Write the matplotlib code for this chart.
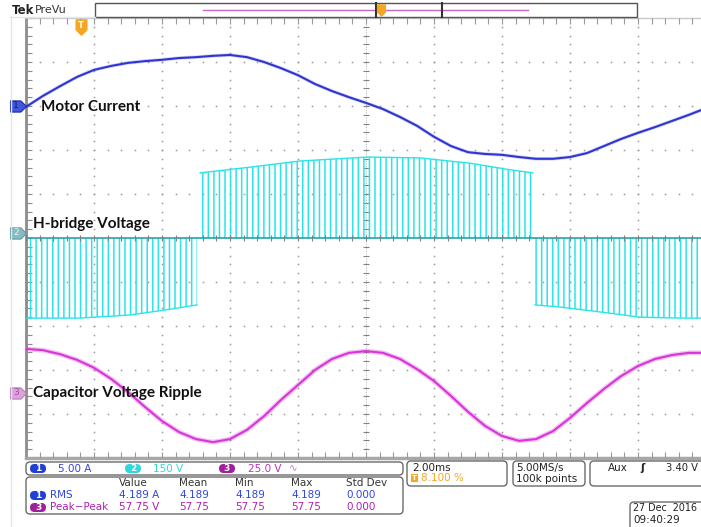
import numpy as np
import matplotlib.pyplot as plt
from matplotlib.patches import FancyBboxPatch, Rectangle

plt.rcParams['hatch.linewidth'] = 1.1

# time in ms (2 ms/div), sampled every 0.5 ms; trace values in screen divisions from centre
t_ms = np.linspace(-10, 10, 41)
current_div = [2.98, 3.23, 3.45, 3.66, 3.82, 3.91, 3.98, 4.02, 4.05, 4.09, 4.11, 4.14, 4.16, 4.11,
               4.00, 3.86, 3.70, 3.50, 3.34, 3.20, 3.07, 2.93, 2.75, 2.55, 2.30, 2.09, 1.95, 1.91,
               1.89, 1.84, 1.80, 1.80, 1.84, 1.93, 2.09, 2.25, 2.39, 2.52, 2.66, 2.80, 2.95]
cap_div = [-2.52, -2.55, -2.64, -2.77, -2.95, -3.20, -3.50, -3.84, -4.16, -4.41, -4.57, -4.64, -4.57,
           -4.36, -4.05, -3.68, -3.34, -3.00, -2.75, -2.61, -2.57, -2.61, -2.75, -2.98, -3.25, -3.59,
           -3.95, -4.27, -4.50, -4.61, -4.57, -4.39, -4.09, -3.75, -3.43, -3.14, -2.91, -2.75, -2.66,
           -2.61, -2.61]

# H-bridge PWM envelope, three blocks (negative, positive, negative)
t_neg1 = [-10.0, -8.41, -6.94, -5.76, -4.97]
env_neg1 = [-1.82, -1.82, -1.75, -1.62, -1.52]
t_pos = [-4.88, -3.41, -1.94, 0.06, 1.59, 3.06, 4.24, 4.91]
env_pos = [1.48, 1.61, 1.75, 1.84, 1.82, 1.70, 1.55, 1.48]
t_neg2 = [4.97, 5.71, 6.88, 8.06, 9.24, 10.0]
env_neg2 = [-1.52, -1.57, -1.68, -1.80, -1.82, -1.82]

ch_offsets = [3.0, 0.12, -3.52]
ch_labels = ['Motor Current', 'H-bridge Voltage', 'Capacitor Voltage Ripple']
label_x = [-9.56, -9.79, -9.79]
label_y = [2.98, 0.32, -3.52]
trigger_pos = 0.081

scale_text = ['5.00 A', '150 V', '25.0 V']
meas_cols = ['Value', 'Mean', 'Min', 'Max', 'Std Dev']
rms_vals = ['4.189 A', '4.189', '4.189', '4.189', '0.000']
pp_vals = ['57.75 V', '57.75', '57.75', '57.75', '0.000']

blue = '#2f35d0'
cyan = '#2ae4ea'
magenta = '#d835d8'
orange = '#f5a623'
grid_c = '#9a9a9a'

W, H = 701, 527
fig = plt.figure(figsize=(W / 100, H / 100), dpi=100)
fig.patch.set_facecolor('white')

ax = fig.add_axes([26 / W, 1 - 458 / H, 680 / W, 440 / H])
ax.set_xlim(-10, 10)
ax.set_ylim(-5, 5)
ax.axis('off')

# graticule dots
for gx in [-8, -6, -4, -2, 2, 4, 6, 8]:
    ys = np.arange(-5, 5.01, 0.2)
    ax.plot(np.full_like(ys, gx), ys, ls='none', marker='s', ms=1.1, mew=0, color=grid_c)
for gy in [-4, -3, -2, -1, 1, 2, 3, 4]:
    xs = np.arange(-10, 10.01, 0.4)
    ax.plot(xs, np.full_like(xs, gy), ls='none', marker='s', ms=1.1, mew=0, color=grid_c)

# centre crosshair with minor ticks
ax.plot([0, 0], [-5, 5], color='#b5b5b5', lw=0.7, ls=(0, (1, 1.5)))
ys = np.arange(-5, 5.01, 0.2)
ax.plot(np.zeros_like(ys), ys, ls='none', marker='_', ms=5, mew=0.8, color='#808080')
xs = np.arange(-10, 10.01, 0.4)
ax.plot(xs, np.zeros_like(xs), ls='none', marker='|', ms=5, mew=0.8, color='#808080', zorder=4)

# frame
ax.plot([-10, -10], [-5, 5], color='#8c8c8c', lw=2, clip_on=False)
ax.plot(np.full_like(ys, -10), ys, ls='none', marker=1, ms=4, mew=0.8, color='#8c8c8c', clip_on=False)
ax.plot([-10, 10], [5, 5], color='#c8c8c8', lw=1, clip_on=False)
ax.plot(xs, np.full_like(xs, 5), ls='none', marker=3, ms=4, mew=0.8, color='#999999', clip_on=False)
ax.plot([-10, 10], [-5, -5], color='#a8a8a8', lw=2.5, clip_on=False)
ax.plot(xs, np.full_like(xs, -5), ls='none', marker=2, ms=4, mew=0.8, color='#999999', clip_on=False)

# channel 2: H-bridge PWM
for tt, ee in [(t_neg1, env_neg1), (t_pos, env_pos), (t_neg2, env_neg2)]:
    ax.fill_between(tt, 0, ee, facecolor='none', edgecolor=cyan, hatch='|||', lw=0, zorder=2)
    ax.plot(tt, ee, color=cyan, lw=1.0, zorder=2)
ax.axhline(0, color='#27a3a8', lw=1.2, zorder=3)

# channel 1: motor current
ax.plot(t_ms, current_div, color=blue, lw=2.6, alpha=0.2, zorder=3)
ax.plot(t_ms, current_div, color=blue, lw=1.5, zorder=3)

# channel 3: capacitor ripple
ax.plot(t_ms, cap_div, color=magenta, lw=3.4, alpha=0.3, zorder=3)
ax.plot(t_ms, cap_div, color=magenta, lw=1.5, zorder=3)

# channel tabs
tab = [(-1, -0.7), (0.3, -0.7), (1, 0), (0.3, 0.7), (-1, 0.7), (-1, -0.7)]
tab_fc = ['#4257dc', '#86bcbf', '#dba2db']
tab_ec = ['#1c2fa8', '#5c9ea1', '#c07bc0']
tab_tc = ['#0d1a70', '#e8f6f6', '#a050a0']
for i, off in enumerate(ch_offsets):
    ax.plot(-10.24, off, marker=tab, ms=11.5, mfc=tab_fc[i], mec=tab_ec[i], mew=0.8, clip_on=False, zorder=5)
    ax.text(-10.3, off, str(i + 1), fontsize=6.5, color=tab_tc[i], ha='center', va='center', zorder=6)

for i, name in enumerate(ch_labels):
    ax.text(label_x[i], label_y[i], name, fontsize=11, fontweight='bold', family='Lato',
            color='#111111', va='center', ha='left', zorder=6)

# trigger marker
trig_marker = [(-0.7, 1), (0.7, 1), (0.7, -0.3), (0, -1), (-0.7, -0.3), (-0.7, 1)]
ax.plot(-10 + 20 * trigger_pos, 4.8, marker=trig_marker, ms=11, mfc=orange, mec=orange, clip_on=False, zorder=5)
ax.text(-10 + 20 * trigger_pos, 4.84, 'T', fontsize=6, color='white', fontweight='bold',
        ha='center', va='center', zorder=6)

# user interface overlay (pixel coordinates)
ui = fig.add_axes([0, 0, 1, 1])
ui.set_xlim(0, W)
ui.set_ylim(H, 0)
ui.axis('off')
ui.patch.set_alpha(0)

ui.plot([10.5, 10.5], [16, H], color='#dde7f0', lw=1)
ui.plot([10, 95], [17, 17], color='#dde7f0', lw=1)
ui.text(12, 10.5, 'Tek', fontsize=8.5, fontweight='bold', color='#222222', va='center')
ui.text(35, 10, 'PreVu', fontsize=8, color='#333333', va='center')
ui.add_patch(Rectangle((95, 3), 542, 14, fc='white', ec='#555555', lw=1))
ui.plot([203, 528], [10, 10], color='#c468c4', lw=1)
ui.plot([376, 376], [3, 17], color='#333333', lw=1.5)
ui.plot([442, 442], [3, 17], color='#333333', lw=1.5)
ui.plot(381, 10, marker=trig_marker, ms=8, mfc=orange, mec=orange)


def box(x0, y0, x1, y1, r=4):
    ui.add_patch(FancyBboxPatch((x0, y0), x1 - x0, y1 - y0,
                                boxstyle='round,pad=0,rounding_size=%g' % r,
                                fc='white', ec='#6a6a6a', lw=1, clip_on=False))


def pill(x, y, label, fc):
    ui.add_patch(FancyBboxPatch((x, y - 4.5), 16, 9, boxstyle='round,pad=0,rounding_size=4.5',
                                fc=fc, ec='none'))
    ui.text(x + 8, y, label, fontsize=6.5, color='white', fontweight='bold', ha='center', va='center')


fs = 7.5
box(26, 462, 403, 475)
pill(30, 468.5, '1', '#1f3fd6')
ui.text(58, 468.5, scale_text[0], fontsize=fs, color='#3046e0', va='center')
pill(125, 468.5, '2', '#33d6da')
ui.text(153, 468.5, scale_text[1], fontsize=fs, color='#33d6da', va='center')
pill(219, 468.5, '3', '#a0209c')
ui.text(248, 468.5, scale_text[2], fontsize=fs, color='#c030c0', va='center')
ui.text(289, 468, '∿', fontsize=fs, color='#d070d0', va='center')

box(26, 477, 403, 514)
col_x = [119, 179, 235, 291, 346]
for cx, c, rv, pv in zip(col_x, meas_cols, rms_vals, pp_vals):
    ui.text(cx, 483.5, c, fontsize=fs, color='#333333', va='center')
    ui.text(cx, 495.5, rv, fontsize=fs, color='#3046e0', va='center')
    ui.text(cx, 507.5, pv, fontsize=fs, color='#b020b0', va='center')
pill(30, 495.5, '1', '#1f3fd6')
ui.text(50, 495.5, 'RMS', fontsize=fs, color='#3046e0', va='center')
pill(30, 507.5, '3', '#a0209c')
ui.text(50, 507.5, 'Peak−Peak', fontsize=fs, color='#b020b0', va='center')

box(407, 461, 507, 486)
ui.text(412, 468, '2.00ms', fontsize=fs, color='#222222', va='center')
ui.add_patch(Rectangle((411, 474), 7, 8, fc=orange, ec='none'))
ui.text(414.5, 478, 'T', fontsize=5, color='white', fontweight='bold', ha='center', va='center')
ui.text(421, 478, '8.100 %', fontsize=fs, color=orange, va='center')

box(513, 461, 585, 486)
ui.text(516, 468, '5.00MS/s', fontsize=fs, color='#222222', va='center')
ui.text(516, 479, '100k points', fontsize=fs, color='#222222', va='center')

box(590, 461, 730, 486)
ui.text(608, 468, 'Aux', fontsize=fs, color='#222222', va='center')
ui.text(640, 468, 'ʃ', fontsize=fs, color='#222222', va='center', fontweight='bold')
ui.text(666, 468, '3.40 V', fontsize=7.2, color='#222222', va='center')

box(630, 502, 730, 540)
ui.text(633, 508, '27 Dec  2016', fontsize=6.9, color='#222222', va='center')
ui.text(633, 520, '09:40:29', fontsize=fs, color='#222222', va='center')

fig.savefig('out.png', dpi=100)
